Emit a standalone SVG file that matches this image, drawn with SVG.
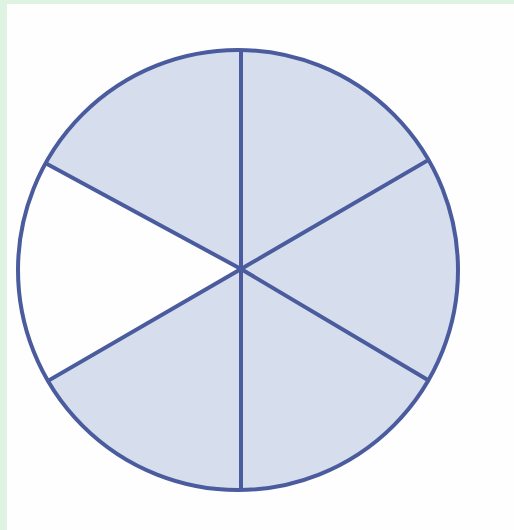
<svg xmlns="http://www.w3.org/2000/svg" width="514" height="530" viewBox="0 0 514 530">
<style>
.ln{stroke:#4b5c9e;stroke-width:4;fill:none;stroke-linecap:round}
</style>
<defs>
<clipPath id="c"><circle cx="238" cy="270" r="220"/></clipPath>
</defs>
<rect width="514" height="530" fill="#fefefe"/>
<rect x="0" y="0" width="514" height="4" fill="#dff3e3"/>
<rect x="0" y="0" width="7" height="530" fill="#dff3e3"/>
<g id="pie">
<circle cx="238" cy="270" r="220" fill="#d6deee"/>
<path d="M241,269 L0,138.4 L0,408.7 Z" fill="#fefefe" clip-path="url(#c)"/>
</g>
<g id="connectors" clip-path="url(#c)">
<line class="ln" x1="241" y1="40" x2="241" y2="500"/>
<line class="ln" x1="241" y1="269" x2="0" y2="138.4"/>
<line class="ln" x1="241" y1="269" x2="0" y2="408.7"/>
<line class="ln" x1="241" y1="269" x2="480" y2="130"/>
<line class="ln" x1="241" y1="269" x2="480" y2="411"/>
</g>
<g id="outline">
<circle class="ln" cx="238" cy="270" r="220"/>
</g>
</svg>
